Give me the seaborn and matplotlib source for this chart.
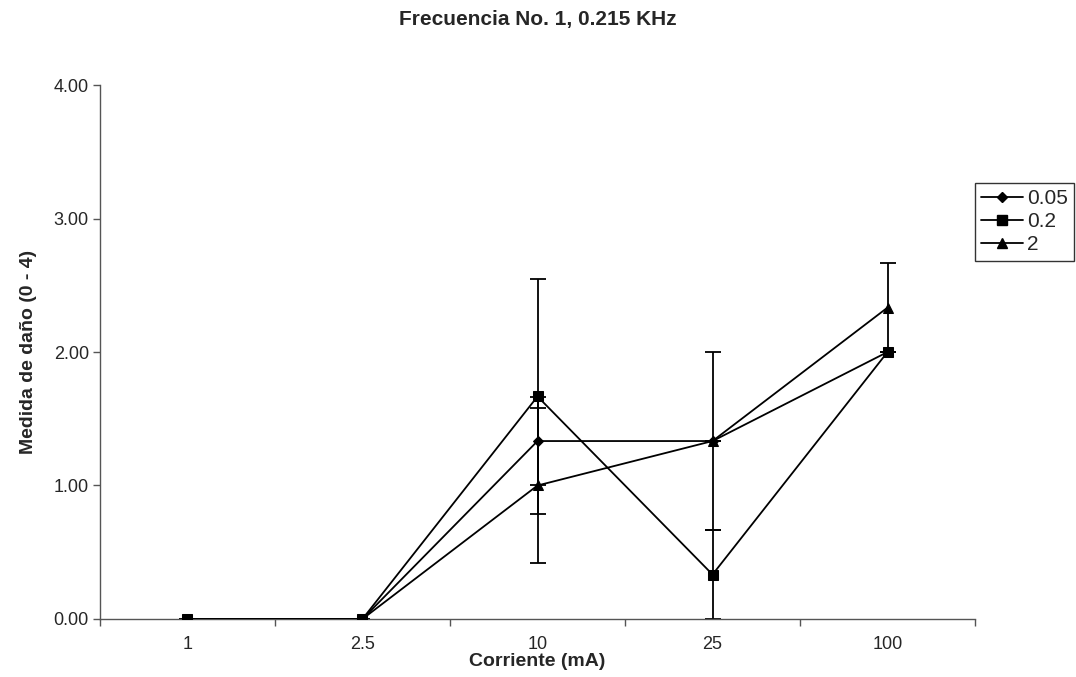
import matplotlib
matplotlib.use("Agg")
import matplotlib.pyplot as plt
import seaborn as sns
import pandas as pd
import numpy as np
from matplotlib.lines import Line2D

# data
corriente = ['1', '2.5', '10', '25', '100']
series_names = ['0.05', '0.2', '2']
vals_005 = [0.0, 0.0, 1.333, 1.333, 2.0]
vals_02 = [0.0, 0.0, 1.667, 0.333, 2.0]
vals_2 = [0.0, 0.0, 1.0, 1.333, 2.333]
err_005 = [0.0, 0.0, 0.333, 0.0, 0.0]
err_02 = [0.0, 0.0, 0.882, 0.333, 0.0]
err_2 = [0.0, 0.0, 0.577, 0.667, 0.333]

sns.set_style("white")
plt.rcParams['font.family'] = ['Liberation Sans', 'DejaVu Sans']

pos = np.arange(len(corriente))
df = pd.DataFrame({
    'pos': np.tile(pos, 3),
    'valor': vals_005 + vals_02 + vals_2,
    'err': err_005 + err_02 + err_2,
    'serie': np.repeat(series_names, len(corriente)),
})

fig = plt.figure(figsize=(10.76, 6.77), dpi=100)
ax = fig.add_axes([0.0929, 0.0857, 0.8133, 0.7887])

marker_map = {'0.05': 'D', '0.2': 's', '2': '^'}
size_map = {'0.05': 5.5, '0.2': 7, '2': 7.5}

for name in series_names:
    sub = df[df['serie'] == name]
    ax.errorbar(sub['pos'], sub['valor'], yerr=sub['err'], fmt='none',
                ecolor='black', elinewidth=1.3, capsize=6, capthick=1.3, zorder=2)

sns.lineplot(data=df, x='pos', y='valor', hue='serie', style='serie',
             palette=['black'] * 3, markers=marker_map, dashes=False,
             linewidth=1.3, markersize=7, markeredgecolor='black',
             ax=ax, zorder=3, legend=False)

# marker sizes per series
for line, name in zip(ax.get_lines()[-3:], series_names):
    line.set_markersize(size_map[name])

ax.set_xlim(-0.5, len(corriente) - 0.5)
ax.set_ylim(0, 4)
ax.set_xticks(pos)
ax.set_xticklabels(corriente)
ax.set_xticks(np.arange(-0.5, len(corriente)), minor=True)
ax.tick_params(axis='x', which='major', length=0, labelsize=13, pad=12)
ax.tick_params(axis='x', which='minor', length=5, width=1, color='#555555', direction='out', bottom=True)
ax.set_yticks([0, 1, 2, 3, 4])
ax.set_yticklabels([f'{v:.2f}' for v in [0, 1, 2, 3, 4]])
ax.tick_params(axis='y', length=5, width=1, color='#555555', direction='out', left=True, labelsize=13, pad=3)

for s in ['top', 'right']:
    ax.spines[s].set_visible(False)
for s in ['left', 'bottom']:
    ax.spines[s].set_color('#555555')
    ax.spines[s].set_linewidth(1)

ax.set_xlabel('Corriente (mA)', fontsize=14, fontweight='bold', labelpad=0)
ax.set_ylabel('Medida de daño (0 - 4)', fontsize=14, fontweight='bold', labelpad=12)
fig.suptitle('Frecuencia No. 1, 0.215 KHz', fontsize=15, fontweight='bold', y=0.985)

handles = [Line2D([0], [0], color='black', lw=1.3, marker=marker_map[n],
                  markersize=size_map[n] - 0.5, markeredgecolor='black') for n in series_names]
leg = fig.legend(handles, series_names, loc='upper left', bbox_to_anchor=(0.906, 0.73),
                 frameon=True, fancybox=False, edgecolor='black', fontsize=15,
                 handlelength=2.0, handletextpad=0.2, borderpad=0.3, labelspacing=0.2,
                 borderaxespad=0)
leg.get_frame().set_linewidth(1)

fig.savefig('out.png', dpi=100, facecolor='white')
